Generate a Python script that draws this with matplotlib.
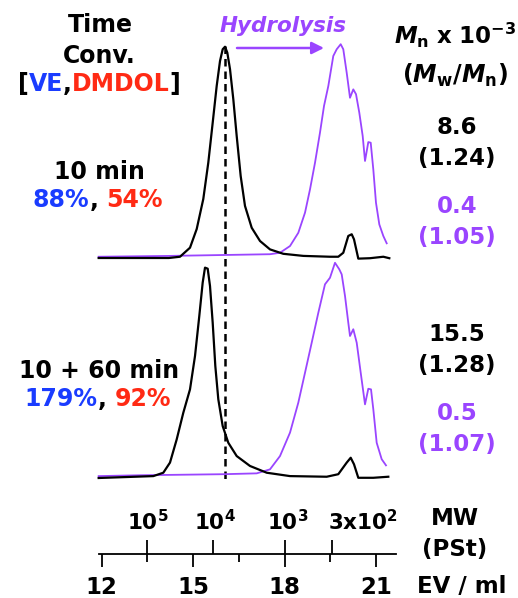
import matplotlib
matplotlib.use('Agg')
import matplotlib.pyplot as plt
from matplotlib import transforms
from matplotlib.offsetbox import TextArea, HPacker, AnnotationBbox

plt.rcParams['font.family'] = ['DejaVu Sans']
plt.rcParams['mathtext.fontset'] = 'dejavusans'

PURPLE = '#9a45ff'
BLUE = '#1a3cff'
RED = '#ff2a14'

# GPC traces: elution volume (ml) and normalised RI intensity
ev_top_black = [11.9, 14.2, 14.567, 14.895, 15.115, 15.331, 15.495, 15.639, 15.770, 15.879,
                15.967, 16.043, 16.118, 16.207, 16.315, 16.426, 16.557, 16.698, 16.918, 17.190,
                17.518, 17.954, 18.610, 19.485, 19.757, 19.921, 20.085, 20.197, 20.272, 20.413,
                20.797, 21.233, 21.430]
i_top_black = [0, 0, 0.006, 0.049, 0.138, 0.281, 0.454, 0.644, 0.819, 0.938,
               0.994, 1.006, 0.978, 0.899, 0.756, 0.581, 0.390, 0.248, 0.144, 0.081,
               0.041, 0.020, 0.010, 0.006, 0.006, 0.025, 0.105, 0.113, 0.089, -0.003,
               -0.001, 0.006, -0.001]

ev_top_purple = [11.9, 14.240, 17.518, 17.846, 18.174, 18.446, 18.666, 18.830, 18.994, 19.157,
                 19.289, 19.430, 19.593, 19.705, 19.836, 19.921, 20.033, 20.141, 20.249, 20.338,
                 20.446, 20.557, 20.633, 20.741, 20.820, 20.905, 20.993, 21.102, 21.233, 21.344]
i_top_purple = [0.006, 0.010, 0.018, 0.025, 0.057, 0.120, 0.216, 0.327, 0.454, 0.597,
                0.724, 0.819, 0.962, 0.994, 1.018, 0.994, 0.882, 0.763, 0.803, 0.780,
                0.692, 0.581, 0.462, 0.552, 0.549, 0.422, 0.263, 0.160, 0.105, 0.070]

ev_bot_black = [11.9, 13.692, 14.020, 14.239, 14.459, 14.675, 14.895, 15.059, 15.200, 15.311,
                15.387, 15.475, 15.551, 15.639, 15.725, 15.823, 15.967, 16.151, 16.426, 16.862,
                17.410, 18.174, 19.377, 19.757, 20.033, 20.164, 20.272, 20.413, 20.905, 21.397]
i_bot_black = [0, 0.009, 0.025, 0.073, 0.183, 0.309, 0.420, 0.578, 0.768, 0.926,
               0.997, 0.992, 0.910, 0.736, 0.531, 0.373, 0.246, 0.167, 0.104, 0.057,
               0.025, 0.009, 0.006, 0.018, 0.073, 0.096, 0.065, 0.001, 0.001, 0.006]

ev_bot_purple = [11.9, 13.256, 15.987, 17.082, 17.518, 17.846, 18.174, 18.446, 18.666, 18.885,
                 19.102, 19.321, 19.485, 19.649, 19.790, 19.869, 19.977, 20.085, 20.141, 20.249,
                 20.361, 20.492, 20.633, 20.741, 20.830, 20.905, 21.016, 21.180, 21.321]
i_bot_purple = [0.009, 0.013, 0.018, 0.022, 0.041, 0.104, 0.215, 0.357, 0.499, 0.641,
                0.783, 0.918, 0.949, 1.020, 0.989, 0.965, 0.863, 0.736, 0.673, 0.705,
                0.641, 0.499, 0.349, 0.423, 0.420, 0.326, 0.167, 0.089, 0.060]

peak_ev = 16.05

ev_major = [12, 15, 18, 21]
ev_minor = [13.5, 16.5, 19.5]
mw_ev = [13.5, 15.65, 18.0, 19.55]
mw_labels = [r'$\mathbf{10^{5}}$', r'$\mathbf{10^{4}}$', r'$\mathbf{10^{3}}$',
             r'$\mathbf{3x10^{2}}$']

times = ['10 min', '10 + 60 min']
conv_ve = ['88%', '179%']
conv_dmdol = ['54%', '92%']
mn_black = ['8.6', '15.5']
pdi_black = ['(1.24)', '(1.28)']
mn_purple = ['0.4', '0.5']
pdi_purple = ['(1.05)', '(1.07)']

W, H = 518, 598
fig = plt.figure(figsize=(W / 100, H / 100), dpi=100)

# x scale: 12 ml at 101.7 px, 30.5 px per ml
px_per_ml = 30.5
ev_left = 12 - 101.7 / px_per_ml
ev_right = ev_left + W / px_per_ml

# overlay axes in pixel units for the text
ax0 = fig.add_axes([0, 0, 1, 1])
ax0.set_xlim(0, W)
ax0.set_ylim(H, 0)
ax0.axis('off')


def panel(base_px, unit_px):
    ax = fig.add_axes([0, (H - base_px) / H, 1, 1.1 * unit_px / H])
    ax.set_xlim(ev_left, ev_right)
    ax.set_ylim(0, 1.1)
    ax.axis('off')
    ax.patch.set_alpha(0)
    return ax


ax_top = panel(258, 210)
ax_bot = panel(478, 211)

for ax, evb, ib, evp, ip in [(ax_top, ev_top_black, i_top_black, ev_top_purple, i_top_purple),
                             (ax_bot, ev_bot_black, i_bot_black, ev_bot_purple, i_bot_purple)]:
    ax.plot(evp, ip, color=PURPLE, lw=1.3, clip_on=False, solid_joinstyle='round')
    ax.plot(evb, ib, color='black', lw=1.6, clip_on=False, solid_joinstyle='round')

# dashed line through the first peak
tr = transforms.blended_transform_factory(ax_top.transData, ax0.transData)
ax0.plot([peak_ev, peak_ev], [46, 480], transform=tr, color='black', lw=1.8,
         ls=(0, (3, 2)))

# EV axis with MW ticks above it
ax_ev = fig.add_axes([0, (H - 554) / H, 1, 0.02])
ax_ev.set_xlim(ev_left, ev_right)
ax_ev.patch.set_alpha(0)
for s in ['top', 'left', 'right']:
    ax_ev.spines[s].set_visible(False)
ax_ev.spines['bottom'].set_bounds(11.9, 21.65)
ax_ev.spines['bottom'].set_linewidth(1.3)
ax_ev.set_yticks([])
ax_ev.set_xticks(ev_major)
ax_ev.set_xticklabels([str(v) for v in ev_major], fontsize=16.5, fontweight='bold')
ax_ev.set_xticks(ev_minor, minor=True)
ax_ev.tick_params(axis='x', which='major', length=9.5, width=1.3, pad=6)
ax_ev.tick_params(axis='x', which='minor', length=5.5, width=1.3)

ax_mw = ax_ev.secondary_xaxis(0)
ax_mw.spines['bottom'].set_visible(False)
ax_mw.set_xticks(mw_ev)
ax_mw.tick_params(axis='x', direction='in', length=10, width=1.3, labelbottom=False)

label_shift = [0, 2, 3, 31]
for ev, lab, dx in zip(mw_ev, mw_labels, label_shift):
    ax_ev.annotate(lab, xy=(ev, 0), xycoords=('data', 'axes fraction'),
                   xytext=(dx * 0.72, 17), textcoords='offset points',
                   ha='center', va='baseline', fontsize=15.5)

bold = dict(fontweight='bold', ha='center', va='baseline')
ax0.text(462, 593, 'EV / ml', fontsize=16.5, **bold)
ax0.text(455, 525, 'MW', fontsize=16.5, **bold)
ax0.text(455, 556, '(PSt)', fontsize=16.5, **bold)

# header on the left
ax0.text(100, 32, 'Time', fontsize=17, **bold)
ax0.text(99, 63, 'Conv.', fontsize=17, **bold)


def multi(parts, x, y, size):
    boxes = [TextArea(t, textprops=dict(color=c, fontsize=size, fontweight='bold'))
             for t, c in parts]
    pack = HPacker(children=boxes, sep=0, pad=0, align='baseline')
    ab = AnnotationBbox(pack, (x, y), xycoords=ax0.transData, frameon=False,
                        box_alignment=(0.5, 0.5), pad=0)
    ax0.add_artist(ab)


multi([('[', 'black'), ('VE', BLUE), (',', 'black'), ('DMDOL', RED), (']', 'black')],
      99, 84, 17)

# Hydrolysis arrow
ax0.text(283, 32, 'Hydrolysis', fontsize=15.5, color=PURPLE, fontstyle='italic', **bold)
ax0.annotate('', xy=(324, 48), xytext=(237, 48),
             arrowprops=dict(arrowstyle='-|>', color=PURPLE, lw=1.8, mutation_scale=18,
                             shrinkA=0, shrinkB=0))

# header on the right
ax0.text(455, 44, r'$\mathbfit{M}_{\mathbf{n}}\mathbf{\ x\ 10^{-3}}$', fontsize=16.5,
         ha='center', va='baseline')
ax0.text(455, 83, r'$\mathbf{(}\mathbfit{M}_{\mathbf{w}}\mathbf{/}\mathbfit{M}_{\mathbf{n}}\mathbf{)}$',
         fontsize=17, ha='center', va='baseline')

# per-panel labels
for k, (yt, yr) in enumerate([(179, 134), (378, 341)]):
    ax0.text(99.5, yt, times[k], fontsize=17, **bold)
    multi([(conv_ve[k], BLUE), (', ', 'black'), (conv_dmdol[k], RED)], 98, yt + 21, 17)
    ax0.text(457, yr, mn_black[k], fontsize=16.5, **bold)
    ax0.text(457, yr + 31, pdi_black[k], fontsize=16.5, **bold)
    ax0.text(457, yr + 79, mn_purple[k], fontsize=16.5, color=PURPLE, **bold)
    ax0.text(457, yr + 110, pdi_purple[k], fontsize=16.5, color=PURPLE, **bold)

fig.savefig('out.png', dpi=100)
